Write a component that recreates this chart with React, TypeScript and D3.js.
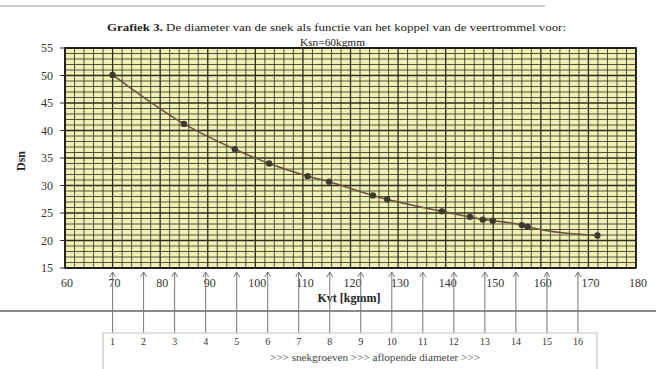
import React from 'react';
import * as d3 from 'd3';

// Kvt [kgmm] vs Dsn
const kvt = [70, 85, 95.7, 102.9, 111, 115.5, 124.7, 127.7, 139.2, 145.1, 147.8, 149.9, 156, 157.2, 171.9];
const dsn = [50.1, 41.2, 36.6, 34.0, 31.7, 30.7, 28.2, 27.5, 25.3, 24.3, 23.8, 23.6, 22.8, 22.5, 20.9];

const xTicks = [60, 70, 80, 90, 100, 110, 120, 130, 140, 150, 160, 170, 180];
const yTicks = [15, 20, 25, 30, 35, 40, 45, 50, 55];
const grooves = [1, 2, 3, 4, 5, 6, 7, 8, 9, 10, 11, 12, 13, 14, 15, 16];

const W = 656;
const H = 369;
const plot = { left: 65, right: 636, top: 48, bottom: 268 };
const serif = '"Liberation Serif", "DejaVu Serif", serif';

export default function App() {
  const x = d3.scaleLinear().domain([60, 180]).range([plot.left, plot.right]);
  const y = d3.scaleLinear().domain([15, 55]).range([plot.bottom, plot.top]);
  // groove number line under the axis (1..16)
  const g = d3.scaleLinear().domain([1, 16]).range([x(70), x(167.8)]);

  const vMinor = d3.range(60, 181, 2);
  const hMinor = d3.range(15, 56, 1);

  const pts = kvt.map((k, i) => [k, dsn[i]] as [number, number]);
  const line = d3
    .line<[number, number]>()
    .x(d => x(d[0]))
    .y(d => y(d[1]))
    .curve(d3.curveMonotoneX);

  const boxTop = 333;

  return (
    <svg
      width={W}
      height={H}
      viewBox={`0 0 ${W} ${H}`}
      style={{ position: 'absolute', left: 0, top: 0, background: '#fff', fontFamily: serif }}
    >
      {/* page rules from the scan */}
      <line x1={0} x2={545} y1={6} y2={6} stroke="#b8b8b8" strokeWidth={1.5} />
      <line x1={0} x2={W} y1={311} y2={311} stroke="#8a8a8a" strokeWidth={2} />

      {/* title */}
      <text x={107} y={31} fontSize={11} fill="#222" textLength={459} lengthAdjust="spacingAndGlyphs">
        <tspan fontWeight="bold">Grafiek 3.</tspan> De diameter van de snek als functie van het koppel van de veertrommel voor:
      </text>
      <text x={300} y={46} fontSize={11} fill="#222" textLength={65} lengthAdjust="spacingAndGlyphs">
        Ksn=60kgmm
      </text>

      {/* plot background + grid */}
      <rect
        x={plot.left}
        y={plot.top}
        width={plot.right - plot.left}
        height={plot.bottom - plot.top}
        fill="#eff1b4"
      />
      {vMinor.map(v => (
        <line
          key={'v' + v}
          x1={x(v)}
          x2={x(v)}
          y1={plot.top}
          y2={plot.bottom}
          stroke="#2b2b1e"
          strokeWidth={v % 10 === 0 ? 1.3 : 0.8}
        />
      ))}
      {hMinor.map(v => (
        <line
          key={'h' + v}
          x1={plot.left}
          x2={plot.right}
          y1={y(v)}
          y2={y(v)}
          stroke="#2b2b1e"
          strokeWidth={v % 5 === 0 ? 1.3 : 0.8}
        />
      ))}
      <rect
        x={plot.left}
        y={plot.top}
        width={plot.right - plot.left}
        height={plot.bottom - plot.top}
        fill="none"
        stroke="#111"
        strokeWidth={1.6}
      />

      {/* y axis */}
      {yTicks.map(t => (
        <g key={'yt' + t}>
          <line x1={plot.left - 5} x2={plot.left} y1={y(t)} y2={y(t)} stroke="#333" />
          <text x={53} y={y(t) + 4} textAnchor="end" fontSize={12} fill="#333">
            {t}
          </text>
        </g>
      ))}
      <text
        transform={`translate(25,${(plot.top + plot.bottom) / 2 + 3}) rotate(-90)`}
        textAnchor="middle"
        fontSize={12}
        fontWeight="bold"
        fill="#222"
      >
        Dsn
      </text>

      {/* x axis */}
      {xTicks.map(t => (
        <text key={'xt' + t} x={x(t) + 2} y={287} textAnchor="middle" fontSize={12} fill="#333">
          {t}
        </text>
      ))}
      <text x={349} y={302} textAnchor="middle" fontSize={12} fontWeight="bold" fill="#222">
        Kvt [kgmm]
      </text>

      {/* data */}
      <path d={line(pts) ?? ''} fill="none" stroke="#6b5140" strokeWidth={1.6} />
      {pts.map((p, i) => (
        <circle key={'p' + i} cx={x(p[0])} cy={y(p[1])} r={3.2} fill="#3b3a2c" />
      ))}

      {/* groove arrows and table */}
      {grooves.map(n => (
        <g key={'gr' + n} stroke="#777" strokeWidth={1} fill="none">
          <line x1={g(n)} x2={g(n)} y1={272} y2={boxTop} />
          <path d={`M${g(n) - 3},${277} L${g(n)},${272} L${g(n) + 3},${277}`} />
        </g>
      ))}
      <path d={`M103,${H} L103,${boxTop} L597,${boxTop} L597,${H}`} fill="none" stroke="#c4c4c4" strokeWidth={1.2} />
      {grooves.map(n => (
        <text key={'gn' + n} x={g(n)} y={345} textAnchor="middle" fontSize={10} fill="#333">
          {n}
        </text>
      ))}
      <text x={270} y={361} fontSize={10} fill="#444" textLength={210} lengthAdjust="spacingAndGlyphs">
        {'>>> snekgroeven >>> aflopende diameter >>>'}
      </text>
    </svg>
  );
}
